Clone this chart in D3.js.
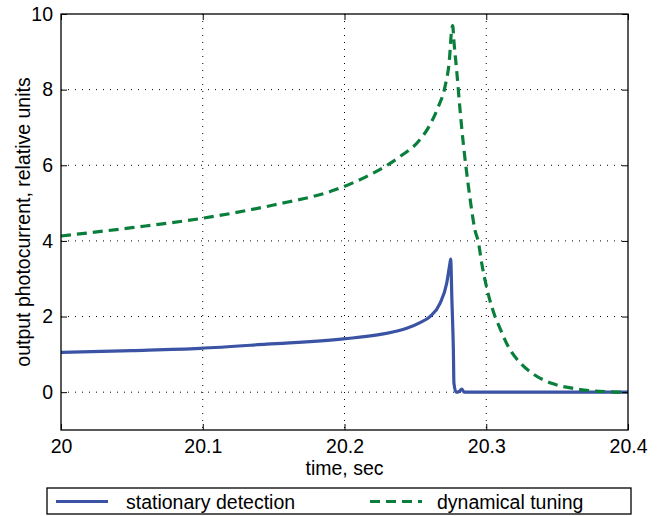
<!DOCTYPE html>
<html>
<head>
<meta charset="utf-8">
<script src="https://cdn.jsdelivr.net/npm/d3@7"></script>
<style>
  body { margin: 0; background: #fff; }
  svg text { font-family: "Liberation Sans", Arial, Helvetica, sans-serif; fill: #000; }
</style>
</head>
<body>
<svg id="chart" width="669" height="516"></svg>
<script>
// Data (time in sec, output in relative units)
var stationaryT = [20, 20.05, 20.0981, 20.1451, 20.1992, 20.2274, 20.2439, 20.2533, 20.2603, 20.2674, 20.2721, 20.2744, 20.2749, 20.2758, 20.2768, 20.2772, 20.2787, 20.281, 20.2827, 20.2845, 20.3, 20.4];
var stationaryV = [1.05, 1.1, 1.16, 1.27, 1.41, 1.54, 1.69, 1.84, 2.0, 2.35, 2.88, 3.41, 3.52, 2.4, 1.12, 0.24, 0.0, 0.02, 0.08, 0.0, 0.0, 0.0];
var dynamicalT = [20, 20.05, 20.1, 20.15, 20.1933, 20.218, 20.2392, 20.2521, 20.2603, 20.2662, 20.2709, 20.274, 20.2756, 20.2763, 20.2773, 20.2791, 20.2815, 20.2838, 20.2873, 20.2897, 20.292, 20.2944, 20.2968, 20.2991, 20.3022, 20.3062, 20.3097, 20.3156, 20.3238, 20.3332, 20.3473, 20.3614, 20.3732, 20.3873, 20.4];
var dynamicalV = [4.13, 4.35, 4.6, 4.95, 5.35, 5.75, 6.23, 6.63, 7.07, 7.55, 8.08, 8.79, 9.58, 9.69, 9.23, 8.52, 7.47, 6.58, 5.48, 4.82, 4.29, 3.98, 3.41, 2.97, 2.48, 2.0, 1.69, 1.2, 0.78, 0.48, 0.22, 0.1, 0.04, 0.01, 0.0];
var xTicks = [20, 20.1, 20.2, 20.3, 20.4];
var yTicks = [0, 2, 4, 6, 8, 10];
var seriesNames = ["stationary detection", "dynamical tuning"];

var svg = d3.select("#chart");
// plot box in pixels (note: "top" is reserved on window, so prefix these)
var pLeft = 61, pRight = 628, pTop = 14, pBottom = 430;
var fontSize = "19.5px";

var x = d3.scaleLinear().domain([20, 20.4]).range([pLeft, pRight]);
var y = d3.scaleLinear().domain([-1, 10]).range([pBottom, pTop]);

// Grid lines (dotted)
var grid = svg.append("g");
grid.selectAll("line.gx").data(xTicks.slice(1, -1)).enter().append("line")
    .attr("x1", function (d) { return x(d); }).attr("x2", function (d) { return x(d); })
    .attr("y1", pTop).attr("y2", pBottom)
    .attr("stroke", "#000").attr("stroke-width", 1).attr("stroke-dasharray", "1,6");
grid.selectAll("line.gy").data(yTicks.slice(0, -1)).enter().append("line")
    .attr("x1", pLeft).attr("x2", pRight)
    .attr("y1", function (d) { return y(d); }).attr("y2", function (d) { return y(d); })
    .attr("stroke", "#000").attr("stroke-width", 1).attr("stroke-dasharray", "1,6");

// Curves
var line = d3.line().curve(d3.curveMonotoneX);
function pts(ts, vs) { return ts.map(function (t, i) { return [x(t), y(vs[i])]; }); }

svg.append("path").attr("d", line(pts(stationaryT, stationaryV)))
    .attr("fill", "none").attr("stroke", "#3a53a4").attr("stroke-width", 3.2)
    .attr("stroke-linejoin", "round");
svg.append("path").attr("d", line(pts(dynamicalT, dynamicalV)))
    .attr("fill", "none").attr("stroke", "#0a7f3c").attr("stroke-width", 3.2)
    .attr("stroke-dasharray", "10,6");

// Axes (ticks inward on all four sides, like MATLAB)
var fmtX = function (d) { return String(+d.toFixed(1)); };
var axB = d3.axisBottom(x).tickValues(xTicks).tickSize(-6).tickPadding(9).tickFormat(fmtX);
var axT = d3.axisTop(x).tickValues(xTicks).tickSize(-6).tickFormat("");
var axL = d3.axisLeft(y).tickValues(yTicks).tickSize(-6).tickPadding(8).tickFormat(d3.format("d"));
var axR = d3.axisRight(y).tickValues(yTicks).tickSize(-6).tickFormat("");

function styleAxis(g) {
    g.select(".domain").remove();
    g.selectAll("line").attr("stroke", "#000");
    g.selectAll("text").style("font-size", fontSize).attr("fill", "#000");
}
svg.append("g").attr("transform", "translate(0," + pBottom + ")").call(axB).call(styleAxis);
svg.append("g").attr("transform", "translate(0," + pTop + ")").call(axT).call(styleAxis);
svg.append("g").attr("transform", "translate(" + pLeft + ",0)").call(axL).call(styleAxis);
svg.append("g").attr("transform", "translate(" + pRight + ",0)").call(axR).call(styleAxis);
svg.append("rect").attr("x", pLeft).attr("y", pTop).attr("width", pRight - pLeft).attr("height", pBottom - pTop)
    .attr("fill", "none").attr("stroke", "#000").attr("stroke-width", 1.3);

// Axis labels
svg.append("text").attr("x", (pLeft + pRight) / 2).attr("y", 475)
    .attr("text-anchor", "middle").style("font-size", fontSize).text("time, sec");
svg.append("text").attr("transform", "translate(30," + (pTop + pBottom) / 2 + ")rotate(-90)")
    .attr("text-anchor", "middle").style("font-size", fontSize).text("output photocurrent, relative units");

// Legend
var lg = svg.append("g");
lg.append("rect").attr("x", 47).attr("y", 488).attr("width", 584).attr("height", 26)
    .attr("fill", "#fff").attr("stroke", "#000").attr("stroke-width", 1.3);
lg.append("line").attr("x1", 56).attr("x2", 108).attr("y1", 501.5).attr("y2", 501.5)
    .attr("stroke", "#3a53a4").attr("stroke-width", 3.2);
lg.append("text").attr("x", 126).attr("y", 508.5).style("font-size", fontSize).text(seriesNames[0]);
lg.append("line").attr("x1", 370).attr("x2", 422).attr("y1", 501.5).attr("y2", 501.5)
    .attr("stroke", "#0a7f3c").attr("stroke-width", 3.2).attr("stroke-dasharray", "10,6");
lg.append("text").attr("x", 437).attr("y", 508.5).style("font-size", fontSize).text(seriesNames[1]);
</script>
</body>
</html>
